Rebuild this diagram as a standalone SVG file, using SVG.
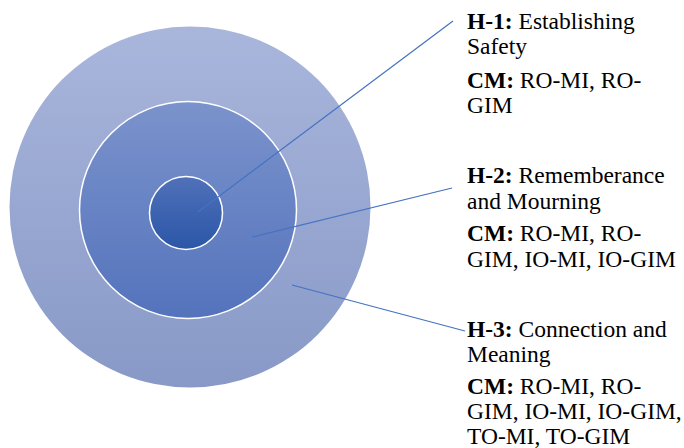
<svg xmlns="http://www.w3.org/2000/svg" width="684" height="448" viewBox="0 0 684 448">
  <style>
    .ring { stroke: #FFFFFF; stroke-width: 1.5; }
    .lead { stroke: #4472C4; stroke-width: 1.2; fill: none; }
    .lbl { font-family: 'Liberation Serif', 'DejaVu Serif', serif; font-size: 23.5px; fill: #000000; }
    .b { font-weight: bold; }
  </style>
  <defs>
    <linearGradient id="gOuter" x1="0" y1="0" x2="0" y2="1">
      <stop offset="0" stop-color="#A9B6DC"/>
      <stop offset="1" stop-color="#8899C7"/>
    </linearGradient>
    <linearGradient id="gMid" x1="0" y1="0" x2="0" y2="1">
      <stop offset="0" stop-color="#7B93CC"/>
      <stop offset="1" stop-color="#5473BC"/>
    </linearGradient>
    <linearGradient id="gInner" x1="0" y1="0" x2="0" y2="1">
      <stop offset="0" stop-color="#5071B9"/>
      <stop offset="1" stop-color="#2B56A7"/>
    </linearGradient>
  </defs>

  <!-- concentric rings -->
  <g id="h3-ring">
    <circle cx="190" cy="207" r="180.5" fill="url(#gOuter)"/>
  </g>
  <g id="h2-ring">
    <circle class="ring" cx="188" cy="210" r="108.5" fill="url(#gMid)"/>
  </g>
  <g id="h1-core">
    <circle class="ring" cx="186" cy="213" r="36.5" fill="url(#gInner)"/>
  </g>

  <!-- leader lines -->
  <g id="connectors">
    <line class="lead" x1="198" y1="212" x2="453" y2="21"/>
    <line class="lead" x1="252" y1="237" x2="452" y2="188"/>
    <line class="lead" x1="292" y1="285" x2="465" y2="331"/>
  </g>

  <!-- callout texts -->
  <g id="label-h1">
    <text class="lbl" x="467" y="29"><tspan class="b">H-1:</tspan> Establishing</text>
    <text class="lbl" x="467" y="54">Safety</text>
    <text class="lbl" x="467" y="88"><tspan class="b">CM:</tspan> RO-MI, RO-</text>
    <text class="lbl" x="467" y="113">GIM</text>
  </g>
  <g id="label-h2">
    <text class="lbl" x="467" y="183"><tspan class="b">H-2:</tspan> Rememberance</text>
    <text class="lbl" x="467" y="209">and Mourning</text>
    <text class="lbl" x="467" y="241"><tspan class="b">CM:</tspan> RO-MI, RO-</text>
    <text class="lbl" x="467" y="267">GIM, IO-MI, IO-GIM</text>
  </g>
  <g id="label-h3">
    <text class="lbl" x="467" y="337"><tspan class="b">H-3:</tspan> Connection and</text>
    <text class="lbl" x="467" y="362">Meaning</text>
    <text class="lbl" x="467" y="394"><tspan class="b">CM:</tspan> RO-MI, RO-</text>
    <text class="lbl" x="467" y="419">GIM, IO-MI, IO-GIM,</text>
    <text class="lbl" x="467" y="444">TO-MI, TO-GIM</text>
  </g>
</svg>
